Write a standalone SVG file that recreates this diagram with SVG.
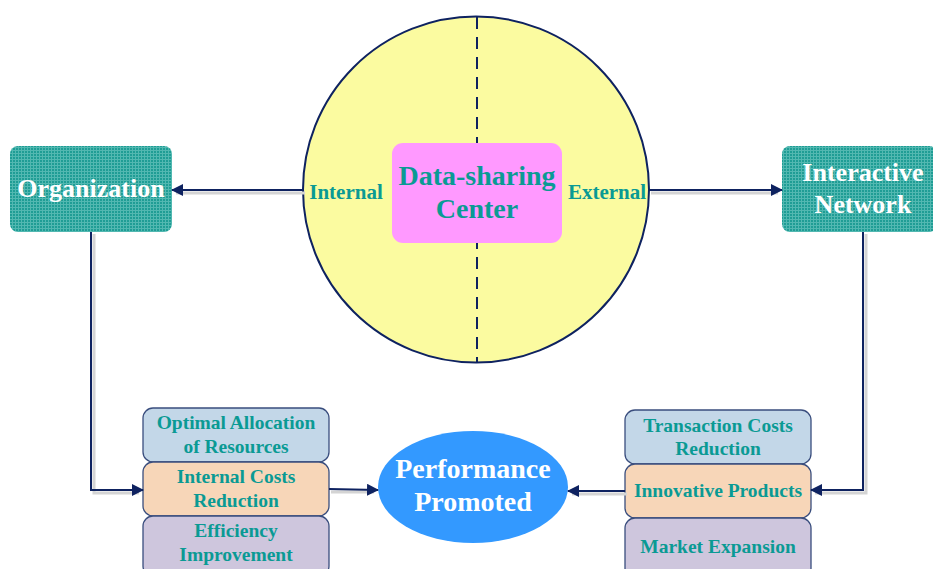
<svg xmlns="http://www.w3.org/2000/svg" width="933" height="569" viewBox="0 0 933 569">
  <style>
    .lbl { font-family: "Liberation Serif", "Times New Roman", serif; font-weight: bold; text-anchor: middle; }
    .teal { fill: #0A9A94; }
    .white { fill: #FFFFFF; }
    .hub { fill: url(#grid); }
    .card { stroke: #3A4E7E; stroke-width: 1.3; }
    .c1 { fill: #C3D7E8; }
    .c2 { fill: #F7D6B8; }
    .c3 { fill: #CEC6DD; }
    .wire { fill: none; stroke: #0E2260; stroke-width: 2; }
    .shade { fill: none; stroke: #D4D4D4; stroke-width: 3; }
  </style>
  <defs>
    <pattern id="grid" width="3" height="3" patternUnits="userSpaceOnUse">
      <rect width="3" height="3" fill="#1F9D95"/>
      <path d="M0 0.5H3M0.5 0V3" stroke="#52B8B1" stroke-width="1"/>
    </pattern>
    <marker id="arr" viewBox="0 0 12 12" refX="11" refY="6" markerWidth="12" markerHeight="12" markerUnits="userSpaceOnUse" orient="auto">
      <path d="M0 0L12 6L0 12Z" fill="#0E2260"/>
    </marker>
  </defs>

  <!-- central sharing circle -->
  <g id="center-circle">
    <circle cx="476" cy="189.5" r="173" fill="#FBFBA0" stroke="#0E2260" stroke-width="2"/>
    <line x1="477" y1="17" x2="477" y2="362" stroke="#0E2260" stroke-width="2" stroke-dasharray="12,8"/>
    <text class="lbl teal" x="346" y="199" font-size="21">Internal</text>
    <text class="lbl teal" x="607" y="199" font-size="21">External</text>
  </g>

  <g id="data-sharing-center">
    <rect x="392" y="143" width="170" height="100" rx="11" fill="#FF99FF"/>
    <text class="lbl teal" x="477" y="185" font-size="28">Data-sharing</text>
    <text class="lbl teal" x="477" y="218" font-size="28">Center</text>
  </g>

  <g id="organization">
    <rect class="hub" x="10" y="146" width="162" height="86" rx="8"/>
    <text class="lbl white" x="91" y="197" font-size="26">Organization</text>
  </g>

  <g id="interactive-network">
    <rect class="hub" x="782" y="146" width="155" height="86" rx="8"/>
    <text class="lbl white" x="863" y="181" font-size="26">Interactive</text>
    <text class="lbl white" x="863" y="213" font-size="26">Network</text>
  </g>

  <g id="optimal-allocation">
    <rect class="card c1" x="143" y="408" width="186" height="54" rx="10"/>
    <text class="lbl teal" x="236" y="429" font-size="19.5">Optimal Allocation</text>
    <text class="lbl teal" x="236" y="453" font-size="19.5">of Resources</text>
  </g>
  <g id="internal-costs">
    <rect class="card c2" x="143" y="462" width="186" height="54" rx="10"/>
    <text class="lbl teal" x="236" y="483" font-size="19.5">Internal Costs</text>
    <text class="lbl teal" x="236" y="507" font-size="19.5">Reduction</text>
  </g>
  <g id="efficiency">
    <rect class="card c3" x="143" y="516" width="186" height="60" rx="10"/>
    <text class="lbl teal" x="236" y="537" font-size="19.5">Efficiency</text>
    <text class="lbl teal" x="236" y="561" font-size="19.5">Improvement</text>
  </g>

  <g id="transaction-costs">
    <rect class="card c1" x="625" y="410" width="186" height="54" rx="10"/>
    <text class="lbl teal" x="718" y="432" font-size="19.5">Transaction Costs</text>
    <text class="lbl teal" x="718" y="455" font-size="19.5">Reduction</text>
  </g>
  <g id="innovative-products">
    <rect class="card c2" x="625" y="464" width="186" height="54" rx="10"/>
    <text class="lbl teal" x="718" y="497" font-size="19.5">Innovative Products</text>
  </g>
  <g id="market-expansion">
    <rect class="card c3" x="625" y="518" width="186" height="60" rx="10"/>
    <text class="lbl teal" x="718" y="553" font-size="19.5">Market Expansion</text>
  </g>

  <g id="performance">
    <ellipse cx="473" cy="487" rx="95" ry="56" fill="#3399FF"/>
    <text class="lbl white" x="473" y="478" font-size="28">Performance</text>
    <text class="lbl white" x="473" y="511" font-size="28">Promoted</text>
  </g>

  <g id="connectors">
    <path class="shade" d="M305 193H176"/>
    <path class="shade" d="M651 193H778"/>
    <path class="shade" d="M94 234V493H139"/>
    <path class="shade" d="M866 234V493H815"/>
    <path class="shade" d="M331 492H374"/>
    <path class="shade" d="M627 494H572"/>
    <path class="wire" d="M303 190H172" marker-end="url(#arr)"/>
    <path class="wire" d="M649 190H782" marker-end="url(#arr)"/>
    <path class="wire" d="M91 232V490H143" marker-end="url(#arr)"/>
    <path class="wire" d="M863 232V490H811" marker-end="url(#arr)"/>
    <path class="wire" d="M329 489L378 490" marker-end="url(#arr)"/>
    <path class="wire" d="M625 491H568" marker-end="url(#arr)"/>
  </g>
</svg>
